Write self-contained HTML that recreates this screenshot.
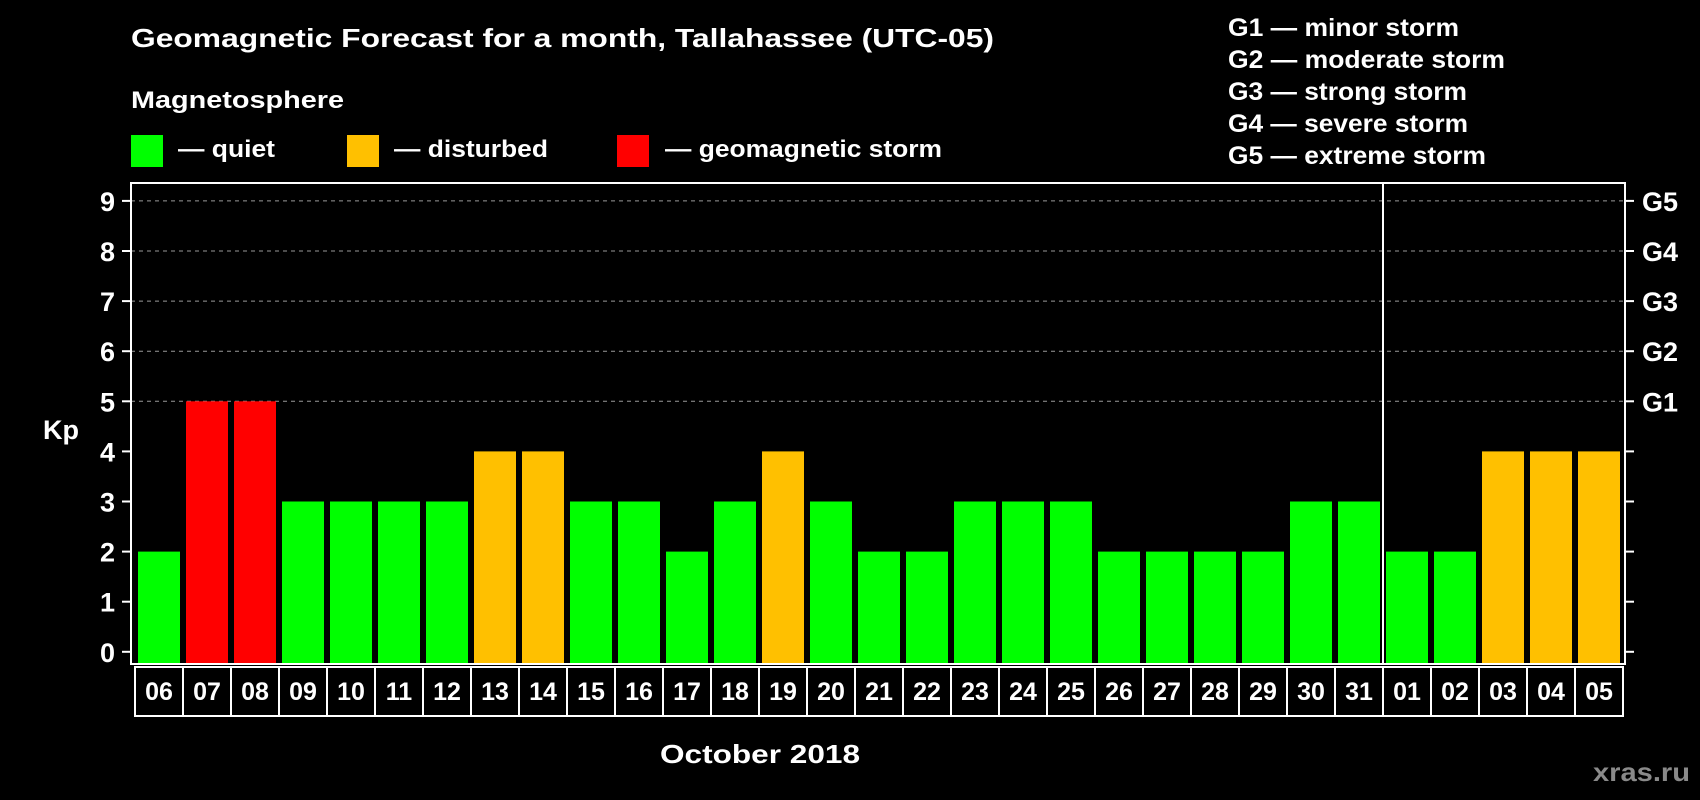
<!DOCTYPE html>
<html><head><meta charset="utf-8"><style>
html,body{margin:0;padding:0;background:#000;}
svg{display:block;font-family:"Liberation Sans",Arial,sans-serif;font-weight:bold;}
</style></head><body>
<svg id="chart" width="1700" height="800" viewBox="0 0 1700 800" xmlns="http://www.w3.org/2000/svg">
<rect x="0" y="0" width="1700" height="800" fill="#000"/>
<text x="131" y="47" fill="#fff" font-size="26" textLength="863" lengthAdjust="spacingAndGlyphs">Geomagnetic Forecast for a month, Tallahassee (UTC-05)</text>
<text x="131" y="108" fill="#fff" font-size="24" textLength="213" lengthAdjust="spacingAndGlyphs">Magnetosphere</text>
<g>
<rect x="131" y="135" width="32" height="32" fill="#00ff00"/>
<text x="178" y="157" fill="#fff" font-size="24" textLength="97" lengthAdjust="spacingAndGlyphs">— quiet</text>
</g>
<g>
<rect x="347" y="135" width="32" height="32" fill="#ffc000"/>
<text x="394" y="157" fill="#fff" font-size="24" textLength="154" lengthAdjust="spacingAndGlyphs">— disturbed</text>
</g>
<g>
<rect x="617" y="135" width="32" height="32" fill="#ff0000"/>
<text x="665" y="157" fill="#fff" font-size="24" textLength="277" lengthAdjust="spacingAndGlyphs">— geomagnetic storm</text>
</g>
<g font-size="25" fill="#fff">
<text x="1228" y="36" textLength="231" lengthAdjust="spacingAndGlyphs">G1 — minor storm</text>
<text x="1228" y="68" textLength="277" lengthAdjust="spacingAndGlyphs">G2 — moderate storm</text>
<text x="1228" y="100" textLength="239" lengthAdjust="spacingAndGlyphs">G3 — strong storm</text>
<text x="1228" y="132" textLength="240" lengthAdjust="spacingAndGlyphs">G4 — severe storm</text>
<text x="1228" y="164" textLength="258" lengthAdjust="spacingAndGlyphs">G5 — extreme storm</text>
</g>
<text x="43" y="439" fill="#fff" font-size="27">Kp</text>
<g id="grid"></g>
<g id="bars"></g>
<g id="axes"></g>
<g id="xlabels"></g>
<text x="660" y="763" fill="#fff" font-size="26" textLength="200" lengthAdjust="spacingAndGlyphs">October 2018</text>
<text x="1593" y="781" fill="#8a8a8a" font-size="26" textLength="97" lengthAdjust="spacingAndGlyphs">xras.ru</text>
</svg>
<script>
const days = ["06","07","08","09","10","11","12","13","14","15","16","17","18","19","20","21","22","23","24","25","26","27","28","29","30","31","01","02","03","04","05"];
const kpValues = [2,5,5,3,3,3,3,4,4,3,3,2,3,4,3,2,2,3,3,3,2,2,2,2,3,3,2,2,4,4,4];
const yTicks = [0,1,2,3,4,5,6,7,8,9];
const gLabels = ["G1","G2","G3","G4","G5"];
const gLevels = [5,6,7,8,9];
const monthBreakIndex = 26;

const NS = "http://www.w3.org/2000/svg";
const plotL = 131, plotR = 1625, plotT = 183, plotB = 664;
const y0 = 651.8, unit = 50.1;
const firstBarX = 138, pitch = 48, barW = 42;
function yScale(v){ return y0 - v*unit; }
function xScale(i){ return firstBarX + i*pitch; }
function mk(tag, attrs, parent){ const e=document.createElementNS(NS,tag); for(const k in attrs) e.setAttribute(k,attrs[k]); parent.appendChild(e); return e; }

const grid = document.getElementById('grid');
gLevels.forEach((lv)=>{
  const l = mk('line',{x1:plotL,x2:plotR,y1:yScale(lv),y2:yScale(lv),stroke:'#999','stroke-width':1,'stroke-dasharray':'4 4'},grid);
  
  
});

const bars = document.getElementById('bars');
kpValues.forEach((v,i)=>{
  const col = v>=5 ? '#ff0000' : (v>=4 ? '#ffc000' : '#00ff00');
  const top = yScale(v);
  const r = mk('rect',{x:xScale(i),y:top,width:barW,height:(plotB-1)-top,fill:col},bars);
  
  
});

const axes = document.getElementById('axes');
const frame = mk('rect',{x:plotL,y:plotT,width:plotR-plotL,height:plotB-plotT,fill:'none',stroke:'#fff','stroke-width':2},axes);


const divX = xScale(monthBreakIndex) - 3;
const dv = mk('line',{x1:divX,x2:divX,y1:plotT,y2:plotB,stroke:'#fff','stroke-width':2},axes);


yTicks.forEach((t)=>{
  const y = yScale(t);
  const tl = mk('line',{x1:122,x2:plotL,y1:y,y2:y,stroke:'#fff','stroke-width':2},axes);
  
  
  const tr = mk('line',{x1:plotR,x2:plotR+9,y1:y,y2:y,stroke:'#fff','stroke-width':2},axes);
  
  
  const lb = mk('text',{x:115,y:y+10,fill:'#fff','font-size':27,'text-anchor':'end'},axes);
  lb.textContent = t;
  
  
});
gLabels.forEach((g,i)=>{
  const lb = mk('text',{x:1642,y:yScale(gLevels[i])+10,fill:'#fff','font-size':27},axes);
  lb.textContent = g;
  
  
});

const xl = document.getElementById('xlabels');
const boxT = 667, boxB = 716;
days.forEach((d,i)=>{
  const bx = xScale(i)-3;
  const r = mk('rect',{x:bx,y:boxT,width:pitch,height:boxB-boxT,fill:'none',stroke:'#fff','stroke-width':2},xl);
  
  
  const t = mk('text',{x:bx+pitch/2,y:700,fill:'#fff','font-size':25,'text-anchor':'middle'},xl);
  t.textContent = d;
  
  
});
</script>
</body></html>
